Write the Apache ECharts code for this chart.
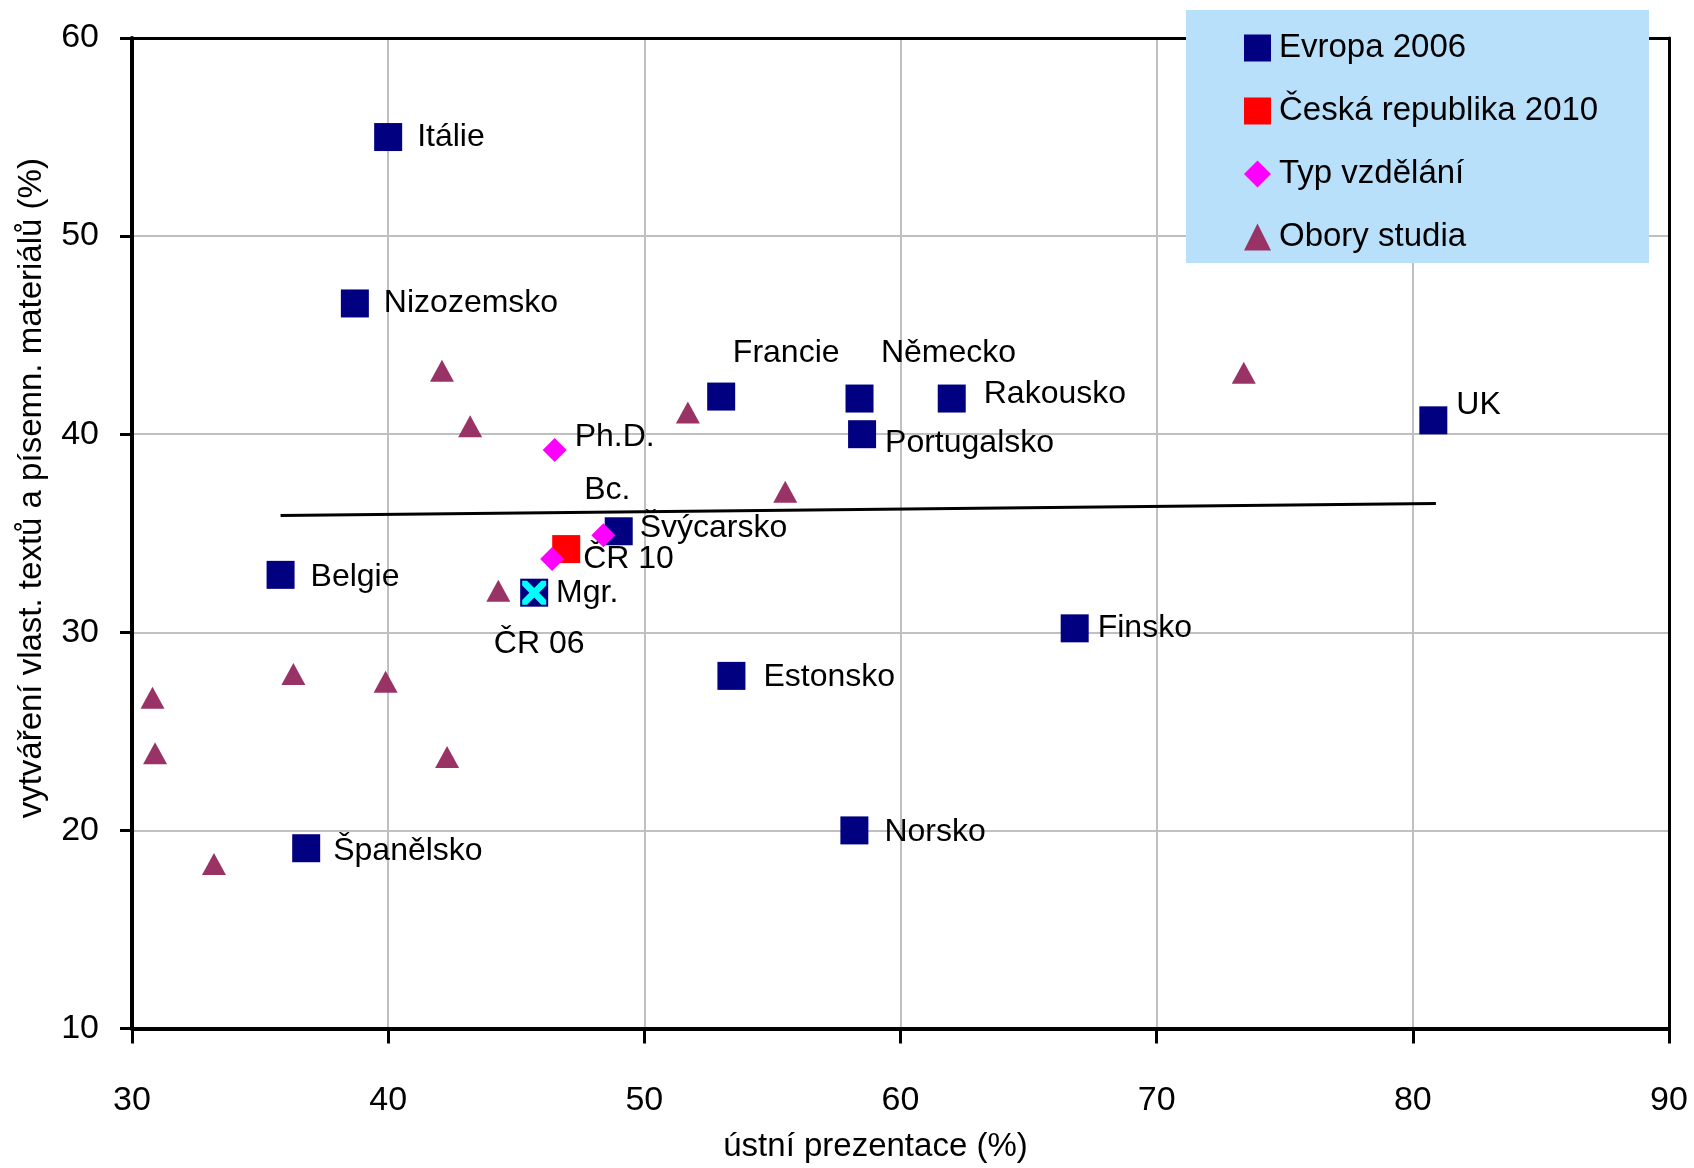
<!DOCTYPE html>
<html>
<head>
<meta charset="utf-8">
<script src="https://cdn.jsdelivr.net/npm/echarts@6/dist/echarts.min.js"></script>
<style>
html,body{margin:0;padding:0;background:#fff;}
#chart{width:1694px;height:1168px;}
</style>
</head>
<body>
<div id="chart"></div>
<script>
// ---------- DATA ----------
const evropaNames = ['Itálie','Nizozemsko','Francie','Německo','Rakousko','Portugalsko','UK','Švýcarsko','Belgie','Finsko','Estonsko','Norsko','Španělsko','ČR 06'];
const evropaX = [40.0, 38.7, 53.0, 58.4, 62.0, 58.5, 80.8, 49.0, 35.8, 66.8, 53.4, 58.2, 36.8, 45.7];
const evropaY = [55.0, 46.6, 41.9, 41.8, 41.8, 40.0, 40.7, 35.1, 32.9, 30.2, 27.8, 20.0, 19.1, 32.0];

const crNames = ['ČR 10'];
const crX = [46.95];
const crY = [34.2];

const typNames = ['Ph.D.','Bc.','Mgr.'];
const typX = [46.5, 48.4, 46.4];
const typY = [39.2, 34.9, 33.7];

const oboryX = [42.1, 43.2, 51.7, 55.5, 73.4, 44.3, 36.3, 39.9, 30.8, 30.9, 42.3, 33.2];
const oboryY = [43.2, 40.4, 41.1, 37.1, 43.1, 32.1, 27.9, 27.5, 26.7, 23.9, 23.7, 18.3];

const trendX = [35.8, 80.9];
const trendY = [35.9, 36.5];

const seriesNames = ['Evropa 2006','Česká republika 2010','Typ vzdělání','Obory studia'];
const xTitle = 'ústní prezentace (%)';
const yTitle = 'vytváření vlast. textů a písemn. materiálů (%)';

// ---------- FONT ----------
const FF = "'Liberation Sans', Arial, sans-serif";
const FS_LABEL = 32;
const FS_TICK = 34;
const FS_TITLE = 33;
const FS_LEG = 33;

// ---------- LABEL PLACEMENT (style) ----------
const labelPlace = {
  'Itálie': {position:'right', offset:[1,0]},
  'Nizozemsko': {position:'right', offset:[1,0]},
  'Francie': {position:'inside', offset:[65,-43]},
  'Německo': {position:'inside', offset:[89,-45]},
  'Rakousko': {position:'right', offset:[4,-4]},
  'Portugalsko': {position:'right', offset:[-5,9]},
  'UK': {position:'right', offset:[-5,-15]},
  'Švýcarsko': {position:'right', offset:[-7,-3]},
  'Belgie': {position:'right', offset:[2,2]},
  'Finsko': {position:'right', offset:[-5,0]},
  'Estonsko': {position:'right', offset:[4,1]},
  'Norsko': {position:'right', offset:[2,2]},
  'Španělsko': {position:'right', offset:[-1,3]},
  'ČR 06': {position:'inside', offset:[5,51]},
  'ČR 10': {position:'right', offset:[-1,10]},
  'Ph.D.': {position:'right', offset:[0,-13]},
  'Bc.': {position:'inside', offset:[4,-45]},
  'Mgr.': {position:'right', offset:[-16,34]}
};

function items(names, xs, ys){
  return xs.map((x,i)=>{
    const it = {value:[x, ys[i]]};
    if (names) {
      it.name = names[i];
      const p = labelPlace[names[i]];
      if (p) it.label = {position:p.position, offset:p.offset};
    }
    return it;
  });
}
const labelBase = {show:true, formatter:'{b}', color:'#000', opacity:1, fontSize:FS_LABEL, fontFamily:FF, distance:14};

const crIdx = evropaNames.indexOf('ČR 06');
const xPath = 'path://M0,0 L2,0 L5,3 L8,0 L10,0 L10,2 L7,5 L10,8 L10,10 L8,10 L5,7 L2,10 L0,10 L0,8 L3,5 L0,2 Z';

const axisCommon = {
  type:'value',
  axisLine:{show:true, lineStyle:{color:'#000', width:4}},
  splitLine:{show:true, lineStyle:{color:'#c0c0c0', width:2}}
};

const chart = echarts.init(document.getElementById('chart'), null, {renderer:'canvas'});
chart.setOption({
  animation:false,
  backgroundColor:'#fff',
  grid:{left:132, right:25, top:38, bottom:138},
  xAxis:[Object.assign({}, axisCommon, {
    min:30, max:90, interval:10, position:'bottom',
    name:xTitle, nameLocation:'middle', nameGap: 118 - FS_TITLE/2,
    nameTextStyle:{fontSize:FS_TITLE, fontFamily:FF, color:'#000', padding:[0,50,0,0]},
    axisTick:{show:true, inside:false, length:15, lineStyle:{color:'#000', width:3}},
    axisLabel:{fontSize:FS_TICK, fontFamily:FF, color:'#000', margin: 1102 - FS_TICK/2 - 1030}
  }), {
    type:'value', min:30, max:90, interval:10, position:'top',
    axisLine:{show:true, onZero:false, lineStyle:{color:'#000', width:3}},
    axisTick:{show:false}, axisLabel:{show:false}, splitLine:{show:false}
  }],
  yAxis:[Object.assign({}, axisCommon, {
    min:10, max:60, interval:10, position:'left',
    name:yTitle, nameLocation:'middle', nameGap: 100 - FS_TITLE/2,
    nameTextStyle:{fontSize:FS_TITLE, fontFamily:FF, color:'#000', padding:[0,0,0,90]},
    axisTick:{show:true, inside:false, length:12, lineStyle:{color:'#000', width:3}},
    axisLabel:{fontSize:FS_TICK, fontFamily:FF, color:'#000', margin:33}
  }), {
    type:'value', min:10, max:60, interval:10, position:'right',
    axisLine:{show:true, onZero:false, lineStyle:{color:'#000', width:3}},
    axisTick:{show:false}, axisLabel:{show:false}, splitLine:{show:false}
  }],
  legend:{
    data:seriesNames, orient:'vertical', left:1239, top:25, z:20,
    itemWidth:27, itemHeight:27, itemGap:27,
    textStyle:{fontSize:FS_LEG, fontFamily:FF, color:'#000', lineHeight:36, padding:[0,0,0,3]},
    selectedMode:false
  },
  graphic:[{
    type:'rect', z:15, left:1186, top:10,
    shape:{width:463, height:253},
    style:{fill:'#b8e0fa'}
  }],
  series:[
    {
      name:'trend', type:'line', z:1,
      data: trendX.map((x,i)=>[x, trendY[i]]),
      showSymbol:false, symbol:'none',
      lineStyle:{color:'#000', width:3}, silent:true
    },
    {
      name:'Obory studia', type:'scatter', z:3,
      symbol:'triangle', symbolSize:[24,22],
      itemStyle:{color:'#993366', opacity:1},
      data: items(null, oboryX, oboryY)
    },
    {
      name:'Evropa 2006', type:'scatter', z:4,
      symbol:'rect', symbolSize:28,
      itemStyle:{color:'#000080', opacity:1},
      label: labelBase,
      data: items(evropaNames, evropaX, evropaY)
    },
    {
      name:'ČR 06 značka', type:'scatter', z:5,
      symbol:xPath, symbolSize:24,
      itemStyle:{color:'#00ffff', opacity:1},
      data:[[evropaX[crIdx], evropaY[crIdx]]]
    },
    {
      name:'Česká republika 2010', type:'scatter', z:6,
      symbol:'rect', symbolSize:28,
      itemStyle:{color:'#ff0000', opacity:1},
      label: Object.assign({}, labelBase, {distance:4}),
      data: items(crNames, crX, crY)
    },
    {
      name:'Typ vzdělání', type:'scatter', z:7,
      symbol:'diamond', symbolSize:24,
      itemStyle:{color:'#ff00ff', opacity:1},
      label: Object.assign({}, labelBase, {distance:8}),
      data: items(typNames, typX, typY)
    }
  ]
});
</script>
</body>
</html>
